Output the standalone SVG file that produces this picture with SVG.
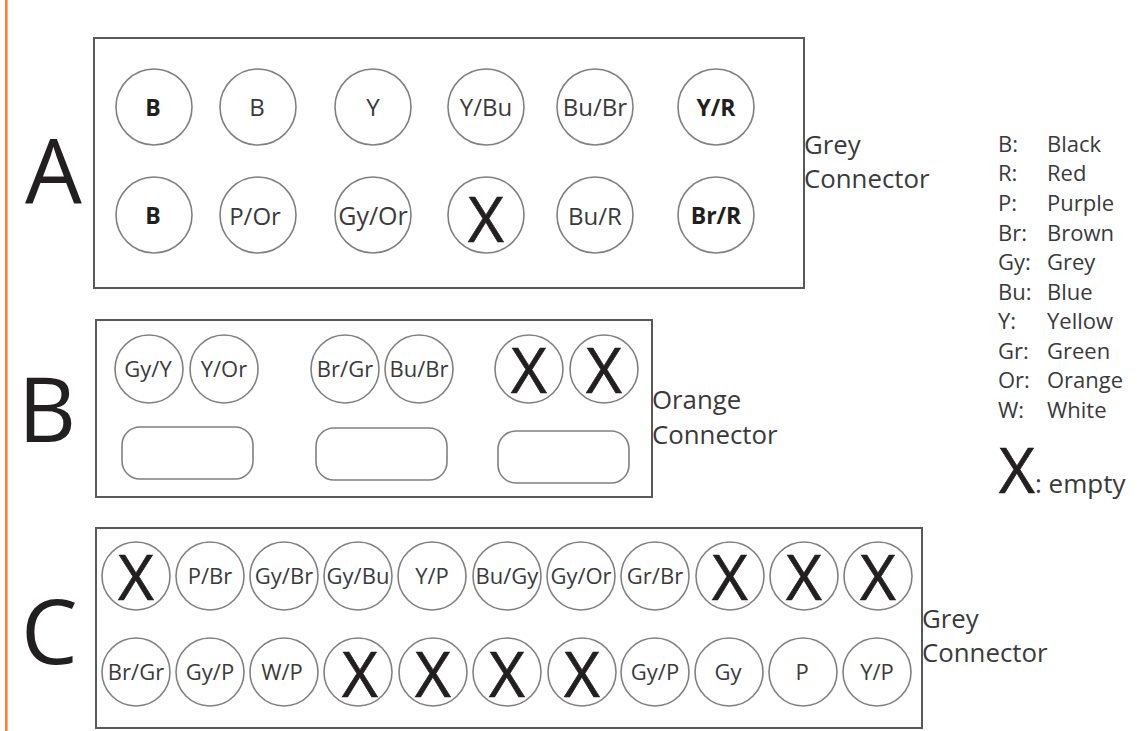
<svg xmlns="http://www.w3.org/2000/svg" width="1146" height="731" viewBox="0 0 1146 731">
<defs><style>
text{font-family:"Open Sans","Noto Sans","Liberation Sans",sans-serif;fill:#3a3a3c}
.box{fill:#fff;stroke:#58595b;stroke-width:2}
.pin{fill:#fff;stroke:#808080;stroke-width:1.6}
.slot{fill:#fff;stroke:#808080;stroke-width:1.6}
.l{font-size:24px;text-anchor:middle}
.m{font-size:22px;text-anchor:middle}
.b{font-size:23px;text-anchor:middle;font-weight:700;fill:#231f20}
.x{font-size:62px;text-anchor:middle;fill:#231f20;stroke:#231f20;stroke-width:.7}
.big{font-size:90px;fill:#231f20}
.cap{font-size:25.8px}
.key{font-size:22px}
</style></defs>
<rect width="1146" height="731" fill="#fff"/>
<rect x="5" y="0" width="2.6" height="731" fill="#f58233"/>
<g id="connector-a">
<rect class="box" x="94" y="38" width="710" height="250"/>
<text class="big" x="25" y="203">A</text>
<text class="cap" x="804" y="154">Grey</text><text class="cap" x="804" y="188">Connector</text>
<g id="a1"><circle class="pin" cx="154" cy="107" r="38"/><text class="b" x="153" y="116">B</text></g>
<g id="a2"><circle class="pin" cx="258" cy="107" r="38"/><text class="l" x="257" y="116">B</text></g>
<g id="a3"><circle class="pin" cx="373" cy="107" r="38"/><text class="l" x="373" y="116">Y</text></g>
<g id="a4"><circle class="pin" cx="486" cy="107" r="38"/><text class="l" x="486" y="116">Y/Bu</text></g>
<g id="a5"><circle class="pin" cx="595" cy="107" r="38"/><text class="l" x="595" y="116">Bu/Br</text></g>
<g id="a6"><circle class="pin" cx="716" cy="107" r="38"/><text class="b" x="716" y="116">Y/R</text></g>
<g id="a7"><circle class="pin" cx="154" cy="215" r="38"/><text class="b" x="153" y="224">B</text></g>
<g id="a8"><circle class="pin" cx="258" cy="215" r="38"/><text class="l" x="255" y="225">P/Or</text></g>
<g id="a9"><circle class="pin" cx="373" cy="215" r="38"/><text class="l" x="373" y="225" style="font-size:25px">Gy/Or</text></g>
<g id="a10"><circle class="pin" cx="486" cy="215" r="38"/><text class="x" x="486" y="242">X</text></g>
<g id="a11"><circle class="pin" cx="595" cy="215" r="38"/><text class="l" x="595" y="225">Bu/R</text></g>
<g id="a12"><circle class="pin" cx="716" cy="215" r="38"/><text class="b" x="716" y="224">Br/R</text></g>
</g>
<g id="connector-b">
<rect class="box" x="96" y="320" width="556" height="177"/>
<text class="big" x="18" y="442">B</text>
<text class="cap" x="652" y="409">Orange</text><text class="cap" x="652" y="444">Connector</text>
<g id="b1"><circle class="pin" cx="149" cy="369" r="34"/><text class="m" x="148" y="377">Gy/Y</text></g>
<g id="b2"><circle class="pin" cx="224" cy="369" r="34"/><text class="m" x="224" y="377">Y/Or</text></g>
<g id="b3"><circle class="pin" cx="345" cy="369" r="34"/><text class="m" x="345" y="377">Br/Gr</text></g>
<g id="b4"><circle class="pin" cx="419" cy="369" r="34"/><text class="m" x="419" y="377">Bu/Br</text></g>
<g id="b5"><circle class="pin" cx="529" cy="369" r="34"/><text class="x" x="529" y="393">X</text></g>
<g id="b6"><circle class="pin" cx="604" cy="369" r="34"/><text class="x" x="604" y="393">X</text></g>
<g id="b-slot1"><rect class="slot" x="122" y="427" width="131" height="52" rx="18"/></g>
<g id="b-slot2"><rect class="slot" x="316" y="428" width="131" height="52" rx="18"/></g>
<g id="b-slot3"><rect class="slot" x="498" y="431" width="131" height="52" rx="18"/></g>
</g>
<g id="connector-c">
<rect class="box" x="96" y="528" width="826" height="200"/>
<text class="big" x="21" y="664">C</text>
<text class="cap" x="922" y="628">Grey</text><text class="cap" x="922" y="662">Connector</text>
<g id="c1"><circle class="pin" cx="136" cy="576" r="34"/><text class="x" x="136" y="600">X</text></g>
<g id="c2"><circle class="pin" cx="210" cy="576" r="34"/><text class="m" x="210" y="584">P/Br</text></g>
<g id="c3"><circle class="pin" cx="284" cy="576" r="34"/><text class="m" x="284" y="584">Gy/Br</text></g>
<g id="c4"><circle class="pin" cx="358" cy="576" r="34"/><text class="m" x="358" y="584">Gy/Bu</text></g>
<g id="c5"><circle class="pin" cx="432" cy="576" r="34"/><text class="m" x="432" y="584">Y/P</text></g>
<g id="c6"><circle class="pin" cx="507" cy="576" r="34"/><text class="m" x="507" y="584">Bu/Gy</text></g>
<g id="c7"><circle class="pin" cx="581" cy="576" r="34"/><text class="m" x="581" y="584">Gy/Or</text></g>
<g id="c8"><circle class="pin" cx="655" cy="576" r="34"/><text class="m" x="655" y="584">Gr/Br</text></g>
<g id="c9"><circle class="pin" cx="730" cy="576" r="34"/><text class="x" x="730" y="600">X</text></g>
<g id="c10"><circle class="pin" cx="804" cy="576" r="34"/><text class="x" x="804" y="600">X</text></g>
<g id="c11"><circle class="pin" cx="878" cy="576" r="34"/><text class="x" x="878" y="600">X</text></g>
<g id="c12"><circle class="pin" cx="136" cy="672" r="34"/><text class="m" x="136" y="680">Br/Gr</text></g>
<g id="c13"><circle class="pin" cx="210" cy="672" r="34"/><text class="m" x="210" y="680">Gy/P</text></g>
<g id="c14"><circle class="pin" cx="284" cy="672" r="34"/><text class="m" x="282" y="680">W/P</text></g>
<g id="c15"><circle class="pin" cx="358" cy="672" r="34"/><text class="x" x="360" y="697">X</text></g>
<g id="c16"><circle class="pin" cx="433" cy="672" r="34"/><text class="x" x="433" y="697">X</text></g>
<g id="c17"><circle class="pin" cx="507" cy="672" r="34"/><text class="x" x="507" y="697">X</text></g>
<g id="c18"><circle class="pin" cx="582" cy="672" r="34"/><text class="x" x="582" y="697">X</text></g>
<g id="c19"><circle class="pin" cx="655" cy="672" r="34"/><text class="m" x="655" y="680">Gy/P</text></g>
<g id="c20"><circle class="pin" cx="729" cy="672" r="34"/><text class="m" x="728" y="680">Gy</text></g>
<g id="c21"><circle class="pin" cx="803" cy="672" r="34"/><text class="m" x="802" y="680">P</text></g>
<g id="c22"><circle class="pin" cx="877" cy="672" r="34"/><text class="m" x="877" y="680">Y/P</text></g>
</g>
<g id="connectors"></g>
<g id="legend">
<text class="key" x="998" y="152">B:</text><text class="key" x="1047" y="152">Black</text>
<text class="key" x="998" y="181">R:</text><text class="key" x="1047" y="181">Red</text>
<text class="key" x="998" y="211">P:</text><text class="key" x="1047" y="211">Purple</text>
<text class="key" x="998" y="241">Br:</text><text class="key" x="1047" y="241">Brown</text>
<text class="key" x="998" y="270">Gy:</text><text class="key" x="1047" y="270">Grey</text>
<text class="key" x="998" y="300">Bu:</text><text class="key" x="1047" y="300">Blue</text>
<text class="key" x="998" y="329">Y:</text><text class="key" x="1047" y="329">Yellow</text>
<text class="key" x="998" y="359">Gr:</text><text class="key" x="1047" y="359">Green</text>
<text class="key" x="998" y="388">Or:</text><text class="key" x="1047" y="388">Orange</text>
<text class="key" x="998" y="418">W:</text><text class="key" x="1047" y="418">White</text>
<text class="x" x="1017" y="493">X</text>
<text class="cap" x="1035" y="493" style="font-size:26px">: empty</text>
</g>
</svg>
